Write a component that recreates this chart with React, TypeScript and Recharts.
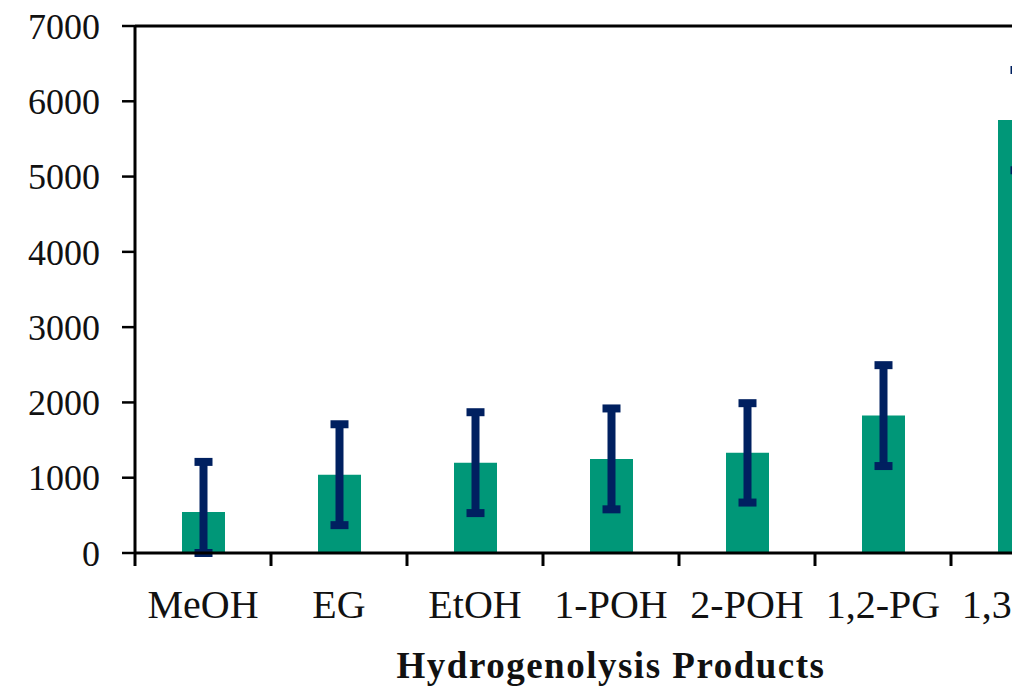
import { BarChart, Bar, XAxis, YAxis, ErrorBar, ReferenceLine } from 'recharts';

const products = ['MeOH', 'EG', 'EtOH', '1-POH', '2-POH', '1,2-PG', '1,3-PD'];
const amounts = [545, 1040, 1200, 1250, 1330, 1825, 5750];
const errors: (number | [number, number])[] = [[545, 665], 670, 670, 670, 660, 670, 665];
const yTicks = [0, 1000, 2000, 3000, 4000, 5000, 6000, 7000];

const data = products.map((name, i) => ({ name, amount: amounts[i], err: errors[i] }));

const FONT = "'Liberation Serif', 'Times New Roman', serif";
const CHART_W = 1100;
const CHART_H = 692;
const MARGIN = { top: 18, right: 21, left: 0, bottom: 0 };
const Y_AXIS_W = 127;
const X_AXIS_H = 147;
const PLOT_W = CHART_W - MARGIN.left - MARGIN.right - Y_AXIS_W;
const BAND = PLOT_W / products.length;
const PLOT_BOTTOM = CHART_H - X_AXIS_H;

function CategoryTick(props: any) {
  const { x, payload, index } = props;
  const left = x - BAND / 2;
  return (
    <g>
      <line x1={left} x2={left} y1={PLOT_BOTTOM} y2={PLOT_BOTTOM + 13} stroke="#000" strokeWidth={3} />
      {index === products.length - 1 && (
        <line x1={x + BAND / 2} x2={x + BAND / 2} y1={PLOT_BOTTOM} y2={PLOT_BOTTOM + 13} stroke="#000" strokeWidth={3} />
      )}
      <text x={x} y={PLOT_BOTTOM + 65} textAnchor="middle" fontFamily={FONT} fontSize={40} fill="#111">
        {payload.value}
      </text>
    </g>
  );
}

export default function App() {
  // clipped on the right and bottom like the source figure
  return (
    <div style={{ width: 1012, height: 684, overflow: 'hidden', background: '#fff' }}>
      <BarChart width={CHART_W} height={CHART_H} data={data} margin={MARGIN} barCategoryGap={0}>
        <ReferenceLine y={7000} stroke="#000" strokeWidth={3} />
        <YAxis
          width={Y_AXIS_W}
          domain={[0, 7000]}
          ticks={yTicks}
          interval={0}
          axisLine={{ stroke: '#000', strokeWidth: 3 }}
          tickLine={{ stroke: '#000', strokeWidth: 2.5 }}
          tickSize={13}
          tickMargin={22}
          tick={{ fill: '#111', fontSize: 36, fontFamily: FONT }}
        />
        <XAxis
          dataKey="name"
          height={X_AXIS_H}
          interval={0}
          axisLine={{ stroke: '#000', strokeWidth: 3 }}
          tickLine={false}
          tick={<CategoryTick />}
          label={{
            value: 'Hydrogenolysis Products',
            position: 'insideBottom',
            offset: 22,
            fill: '#111',
            fontSize: 37,
            fontWeight: 'bold',
            fontFamily: FONT,
            letterSpacing: 1.5,
          }}
        />
        <Bar dataKey="amount" fill="#009778" barSize={43} isAnimationActive={false}>
          <ErrorBar dataKey="err" stroke="#002060" strokeWidth={8} width={9} isAnimationActive={false} />
        </Bar>
      </BarChart>
    </div>
  );
}
